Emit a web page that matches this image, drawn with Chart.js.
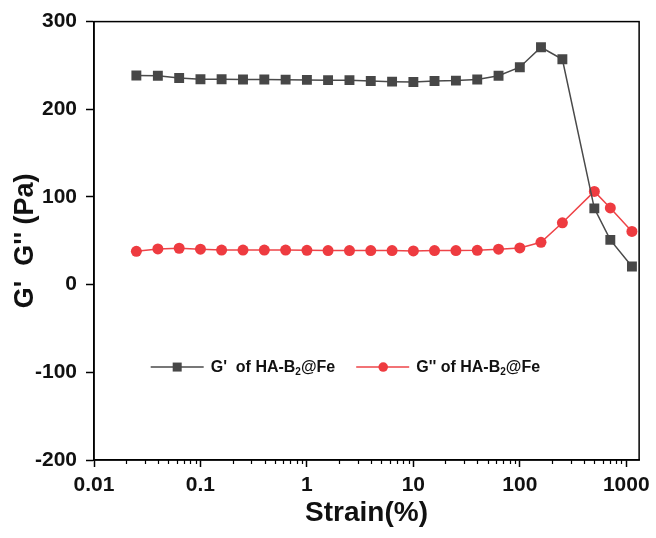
<!DOCTYPE html>
<html>
<head>
<meta charset="utf-8">
<script src="https://cdn.jsdelivr.net/npm/chart.js@4"></script>
<style>
  html, body { margin: 0; padding: 0; background: #fff; }
  #wrap { width: 656px; height: 538px; }
</style>
</head>
<body>
<div id="wrap"><canvas id="chart"></canvas></div>
<script>
// strain (%) and moduli (Pa)
var strain = [0.025, 0.0398, 0.0631, 0.1, 0.158, 0.251, 0.398, 0.631, 1, 1.58, 2.51, 3.98, 6.31,
              10, 15.8, 25.1, 39.8, 63.1, 100, 158, 251, 501, 708, 1130];
var gPrime = [238.5, 238.3, 235.6, 234.2, 234.2, 234.0, 234.0, 233.8, 233.5, 233.2, 233.2, 232.3, 231.5,
              231.1, 232.3, 232.7, 234.0, 238.3, 248.0, 270.7, 257.0, 87.0, 51.0, 20.7];
var gDoublePrime = [38.0, 40.7, 41.5, 40.4, 39.4, 39.4, 39.4, 39.4, 39.2, 38.8, 38.8, 38.8, 38.8,
                    38.5, 38.8, 38.8, 39.2, 40.4, 41.9, 48.3, 70.5, 106.3, 87.5, 60.7];
var seriesNames = ["G'  of HA-B\u2082@Fe", "G'' of HA-B\u2082@Fe"];
var xTickLabels = ["0.01", "0.1", "1", "10", "100", "1000"];
var yTicks = [-200, -100, 0, 100, 200, 300];

var FONT = "'Liberation Sans', Arial, sans-serif";

function toPoints(xs, ys) {
  return xs.map(function (x, i) { return { x: x, y: ys[i] }; });
}

function isMajor(v) {
  return xTickLabels.indexOf(String(v)) >= 0;
}

// box around the plot, short minor ticks on the log axis, and the inset legend
var framePlugin = {
  id: 'frame',
  afterDraw: function (chart) {
    var ctx = chart.ctx, a = chart.chartArea, xs = chart.scales.x;
    ctx.save();
    ctx.strokeStyle = '#000';
    ctx.lineWidth = 1.5;
    ctx.strokeRect(a.left, a.top, a.right - a.left, a.bottom - a.top);
    ctx.lineWidth = 1.2;
    xs.ticks.forEach(function (t) {
      if (isMajor(t.value)) return;
      var px = Math.round(xs.getPixelForValue(t.value)) + 0.5;
      ctx.beginPath();
      ctx.moveTo(px, a.bottom);
      ctx.lineTo(px, a.bottom + 4);
      ctx.stroke();
    });
    ctx.restore();
  }
};

function drawSubText(ctx, text, x, y, size) {
  var parts = text.split('\u2082');
  var cx = x;
  parts.forEach(function (p, i) {
    ctx.font = 'bold ' + size + 'px ' + FONT;
    ctx.fillText(p, cx, y);
    cx += ctx.measureText(p).width;
    if (i < parts.length - 1) {
      ctx.font = 'bold ' + Math.round(size * 0.65) + 'px ' + FONT;
      ctx.fillText('2', cx, y + 4);
      cx += ctx.measureText('2').width;
    }
  });
}

var legendPlugin = {
  id: 'insetLegend',
  afterDraw: function (chart) {
    var ctx = chart.ctx, a = chart.chartArea;
    var y = chart.scales.y.getPixelForValue(-94);
    var w = a.right - a.left;
    var starts = [a.left + w * 0.104, a.left + w * 0.481];
    ctx.save();
    chart.data.datasets.forEach(function (ds, i) {
      var x0 = starts[i];
      ctx.strokeStyle = ds.borderColor;
      ctx.lineWidth = 1.5;
      ctx.beginPath();
      ctx.moveTo(x0, y);
      ctx.lineTo(x0 + 53, y);
      ctx.stroke();
      ctx.fillStyle = ds.backgroundColor;
      if (ds.pointStyle === 'rect') {
        ctx.fillRect(x0 + 22, y - 4.5, 9, 9);
      } else {
        ctx.beginPath();
        ctx.arc(x0 + 27, y, 4.8, 0, Math.PI * 2);
        ctx.fill();
      }
      ctx.fillStyle = '#111';
      ctx.textBaseline = 'middle';
      ctx.textAlign = 'left';
      drawSubText(ctx, ds.label, x0 + 60, y + 1, 16);
    });
    ctx.restore();
  }
};

new Chart(document.getElementById('chart'), {
  type: 'line',
  data: {
    datasets: [
      {
        label: seriesNames[0],
        data: toPoints(strain, gPrime),
        borderColor: '#4a4a4a',
        backgroundColor: '#474747',
        borderWidth: 1.5,
        pointStyle: 'rect',
        pointRadius: 7,
        pointBorderWidth: 0,
        tension: 0
      },
      {
        label: seriesNames[1],
        data: toPoints(strain, gDoublePrime),
        borderColor: '#ee4448',
        backgroundColor: '#ee3b40',
        borderWidth: 1.5,
        pointStyle: 'circle',
        pointRadius: 5.5,
        pointBorderWidth: 0,
        tension: 0
      }
    ]
  },
  options: {
    responsive: true,
    maintainAspectRatio: false,
    animation: false,
    layout: { padding: { top: 18, right: 15, left: 0, bottom: 0 } },
    plugins: {
      legend: { display: false },
      tooltip: { enabled: false }
    },
    scales: {
      x: {
        type: 'logarithmic',
        min: 0.01,
        max: 1320,
        afterBuildTicks: function (scale) {
          var ticks = [];
          for (var e = -2; e <= 3; e++) {
            for (var m = 1; m <= 9; m++) {
              var v = parseFloat((m * Math.pow(10, e)).toPrecision(3));
              if (v >= scale.min && v <= scale.max) ticks.push({ value: v });
            }
          }
          scale.ticks = ticks;
        },
        afterFit: function (scale) { scale.height = 78; },
        ticks: {
          autoSkip: false,
          maxRotation: 0,
          padding: 6,
          color: '#111',
          font: { family: FONT, size: 21, weight: 'bold' },
          callback: function (v) { return isMajor(v) ? String(v) : ''; }
        },
        grid: {
          drawOnChartArea: false,
          drawTicks: true,
          tickLength: 7,
          tickWidth: 1.5,
          tickColor: function (c) { return c.tick && isMajor(c.tick.value) ? '#000' : 'rgba(0,0,0,0)'; }
        },
        border: { display: true, color: '#000', width: 1.5 },
        title: {
          display: true,
          text: 'Strain(%)',
          color: '#111',
          font: { family: FONT, size: 28, weight: 'bold' },
          padding: { top: 2, bottom: 8 }
        }
      },
      y: {
        min: -200,
        max: 300,
        afterBuildTicks: function (scale) {
          scale.ticks = yTicks.map(function (v) { return { value: v }; });
        },
        afterFit: function (scale) { scale.width = 94; },
        ticks: {
          padding: 9,
          color: '#111',
          font: { family: FONT, size: 21, weight: 'bold' }
        },
        grid: {
          drawOnChartArea: false,
          drawTicks: true,
          tickLength: 8,
          tickWidth: 1.5,
          tickColor: '#000'
        },
        border: { display: true, color: '#000', width: 1.5 },
        title: {
          display: true,
          text: "G'  G'' (Pa)",
          color: '#111',
          font: { family: FONT, size: 27, weight: 'bold' },
          padding: { top: 9, bottom: 0 }
        }
      }
    }
  },
  plugins: [framePlugin, legendPlugin]
});
</script>
</body>
</html>
